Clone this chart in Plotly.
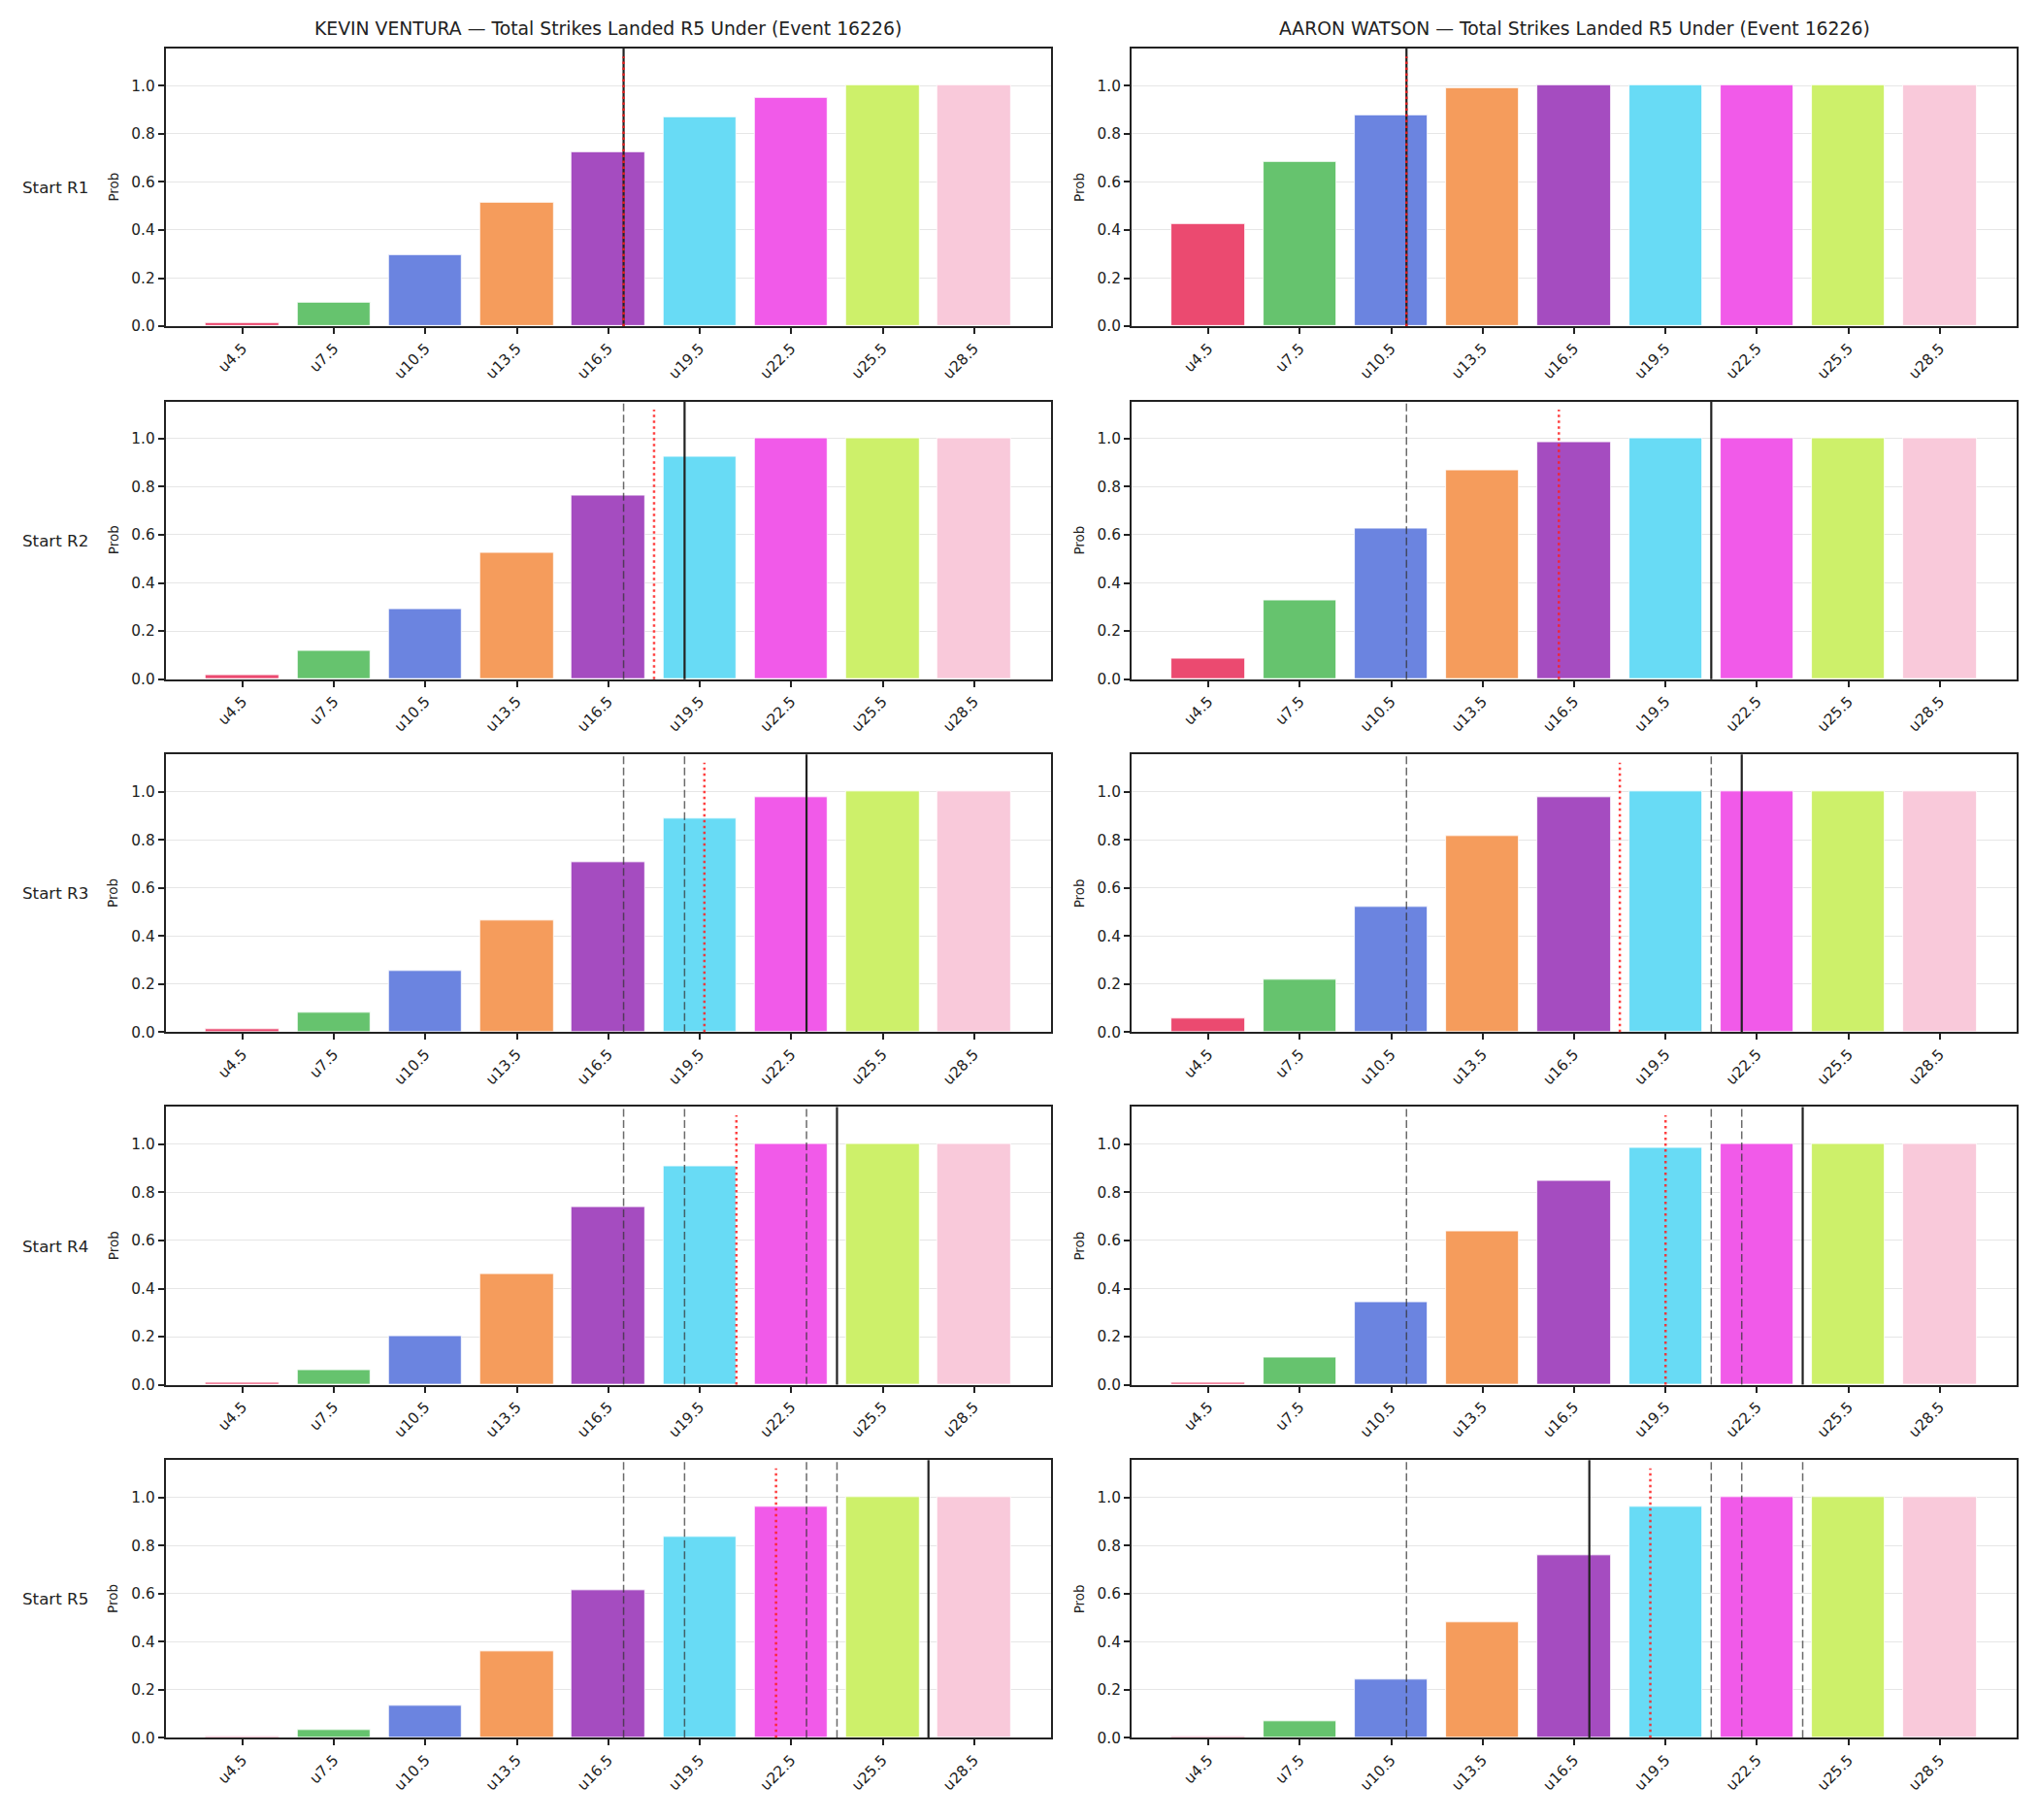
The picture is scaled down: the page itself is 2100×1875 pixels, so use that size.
import plotly.graph_objects as go

# ---------------- data ----------------
lines_x = [4.5, 7.5, 10.5, 13.5, 16.5, 19.5, 22.5, 25.5, 28.5]
tick_labels = ["u4.5", "u7.5", "u10.5", "u13.5", "u16.5", "u19.5", "u22.5", "u25.5", "u28.5"]
bar_colors = ["#EB4A70", "#66C36E", "#6B84E0", "#F59C5C", "#A54CC0",
              "#68DBF5", "#F15AE9", "#CDF06A", "#F9C9DA"]

fighters = ["KEVIN VENTURA", "AARON WATSON"]
row_labels = ["Start R1", "Start R2", "Start R3", "Start R4", "Start R5"]

kevin_r1 = [0.015, 0.100, 0.295, 0.512, 0.725, 0.869, 0.949, 1.0, 1.0]
kevin_r2 = [0.015, 0.119, 0.291, 0.524, 0.765, 0.925, 1.0, 1.0, 1.0]
kevin_r3 = [0.011, 0.083, 0.255, 0.464, 0.705, 0.889, 0.977, 1.0, 1.0]
kevin_r4 = [0.007, 0.063, 0.203, 0.460, 0.741, 0.909, 1.0, 1.0, 1.0]
kevin_r5 = [0.003, 0.031, 0.135, 0.360, 0.616, 0.837, 0.961, 1.0, 1.0]

aaron_r1 = [0.425, 0.682, 0.878, 0.991, 1.0, 1.0, 1.0, 1.0, 1.0]
aaron_r2 = [0.087, 0.328, 0.628, 0.869, 0.985, 1.0, 1.0, 1.0, 1.0]
aaron_r3 = [0.056, 0.219, 0.520, 0.817, 0.977, 1.0, 1.0, 1.0, 1.0]
aaron_r4 = [0.007, 0.115, 0.344, 0.640, 0.850, 0.985, 1.0, 1.0, 1.0]
aaron_r5 = [0.003, 0.071, 0.243, 0.480, 0.761, 0.961, 1.0, 1.0, 1.0]

# strikes at start of each round (solid), projection (dotted)
kevin_current = [17.0, 19.0, 23.0, 24.0, 27.0]
kevin_projection = [17.0, 18.0, 19.65, 20.7, 22.0]
aaron_current = [11.0, 21.0, 22.0, 24.0, 17.0]
aaron_projection = [11.0, 16.0, 18.0, 19.5, 19.0]

probs = [[kevin_r1, kevin_r2, kevin_r3, kevin_r4, kevin_r5],
         [aaron_r1, aaron_r2, aaron_r3, aaron_r4, aaron_r5]]
currents = [kevin_current, aaron_current]
projections = [kevin_projection, aaron_projection]

# ---------------- layout geometry ----------------
W, H = 2100, 1875
col_px = [(170.7, 1083.0), (1166.0, 2078.0)]
row_px = [(50.0, 337.7), (415.5, 703.0), (781.0, 1068.5), (1146.0, 1433.5), (1511.5, 1799.0)]
YMAX = 1.155
FONT = "DejaVu Sans"
DARK = "#222222"
TICK_FONT = 15.3

fig = go.Figure()
layout = dict(width=W, height=H, margin=dict(l=0, r=0, t=0, b=0),
              paper_bgcolor="white", plot_bgcolor="white", showlegend=False,
              font=dict(family=FONT, color=DARK), bargap=0)
shapes = []
annotations = []

idx = 0
for r in range(5):
    for c in range(2):
        idx += 1
        sfx = "" if idx == 1 else str(idx)
        xa, ya = "x" + sfx, "y" + sfx
        x0, x1 = col_px[c]
        top, bot = row_px[r]
        fig.add_trace(go.Bar(
            x=lines_x, y=probs[c][r], width=2.4, xaxis=xa, yaxis=ya,
            marker=dict(color=bar_colors, line=dict(color="white", width=0.8)),
            hoverinfo="skip"))
        layout["xaxis" + sfx] = dict(
            domain=[x0 / W, x1 / W], anchor=ya, range=[1.98, 31.02],
            tickmode="array", tickvals=lines_x, ticktext=tick_labels, tickangle=-45,
            ticks="outside", ticklen=6, tickwidth=1.5, tickcolor=DARK,
            tickfont=dict(size=TICK_FONT, family=FONT, color=DARK),
            showline=True, linecolor=DARK, linewidth=2, mirror=True,
            showgrid=False, zeroline=False, fixedrange=True)
        layout["yaxis" + sfx] = dict(
            domain=[1 - bot / H, 1 - top / H], anchor=xa, range=[0, YMAX],
            tickmode="array", tickvals=[0, 0.2, 0.4, 0.6, 0.8, 1.0],
            ticktext=["0.0", "0.2", "0.4", "0.6", "0.8", "1.0"],
            ticks="outside", ticklen=6, tickwidth=1.5, tickcolor=DARK,
            tickfont=dict(size=TICK_FONT, family=FONT, color=DARK),
            showline=True, linecolor=DARK, linewidth=2, mirror=True,
            showgrid=True, gridcolor="#e6e6e6", gridwidth=1,
            zeroline=False, fixedrange=True)
        # previous rounds (dashed)
        for v in currents[c][:r]:
            shapes.append(dict(type="line", xref=xa, yref=ya + " domain",
                               x0=v, x1=v, y0=0, y1=1, layer="above",
                               line=dict(color="rgba(50,50,50,0.72)", width=1.5, dash="8px,3.5px")))
        # current (solid)
        v = currents[c][r]
        shapes.append(dict(type="line", xref=xa, yref=ya + " domain",
                           x0=v, x1=v, y0=0, y1=1, layer="above",
                           line=dict(color=DARK, width=2.2)))
        # projection (dotted)
        v = projections[c][r]
        shapes.append(dict(type="line", xref=xa, yref=ya + " domain",
                           x0=v, x1=v, y0=0, y1=0.97, layer="above",
                           line=dict(color="rgba(255,30,30,0.85)", width=2.5, dash="2.5px,3.5px")))
        # Prob label
        annotations.append(dict(text="Prob", xref="paper", yref="paper",
                                x=(x0 - 54.0) / W, y=1 - (top + bot) / 2 / H,
                                textangle=-90, showarrow=False,
                                xanchor="center", yanchor="middle",
                                font=dict(size=13.5, family=FONT, color=DARK)))
        if c == 0:
            annotations.append(dict(text=row_labels[r], xref="paper", yref="paper",
                                    x=57.0 / W, y=1 - (top + bot) / 2 / H,
                                    showarrow=False, xanchor="center", yanchor="middle",
                                    font=dict(size=16.7, family=FONT, color=DARK)))
        if r == 0:
            annotations.append(dict(
                text=f"{fighters[c]} — Total Strikes Landed R5 Under (Event 16226)",
                xref="paper", yref="paper", x=(x0 + x1) / 2 / W, y=1 - 29.5 / H,
                showarrow=False, xanchor="center", yanchor="middle",
                font=dict(size=18.8, family=FONT, color=DARK)))

layout["shapes"] = shapes
layout["annotations"] = annotations
fig.update_layout(**layout)
fig.write_html("out.html")
